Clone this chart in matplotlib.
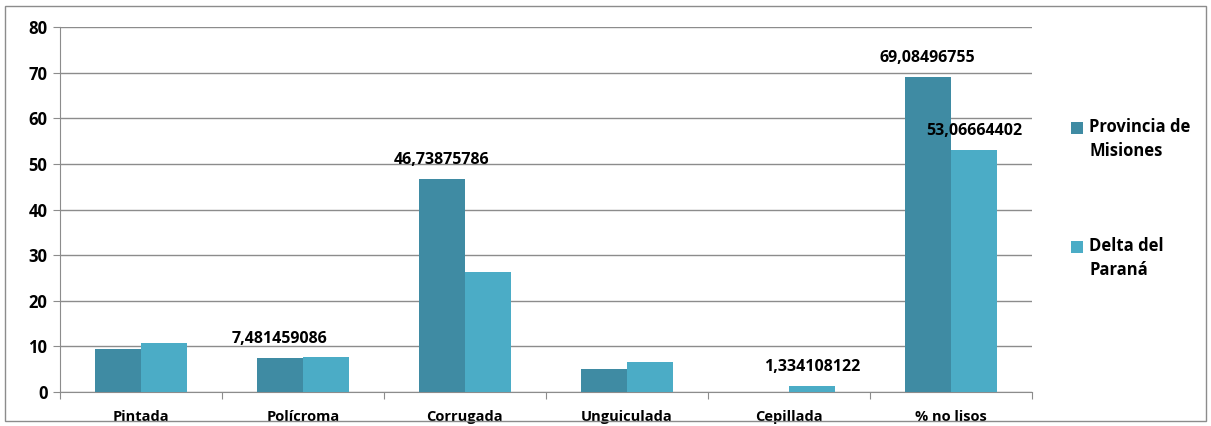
import matplotlib.pyplot as plt
import numpy as np
from matplotlib.patches import Rectangle

categories = ["Pintada", "Polícroma", "Corrugada", "Unguiculada", "Cepillada", "% no lisos"]
misiones = [9.4, 7.481459086, 46.73875786, 5.1, 0.0, 69.08496755]
delta = [10.8, 7.7, 26.3, 6.6, 1.334108122, 53.06664402]
series_names = ["Provincia de\nMisiones", "Delta del\nParaná"]

# labels shown in the original: (series index, category index, text)
shown_labels = [
    (0, 1, "7,481459086"),
    (0, 2, "46,73875786"),
    (1, 4, "1,334108122"),
    (0, 5, "69,08496755"),
    (1, 5, "53,06664402"),
]

plt.rcParams["font.family"] = ["Open Sans", "DejaVu Sans"]
plt.rcParams["font.weight"] = "bold"

dark = "#3F8BA3"
light = "#4BACC6"
grid_c = "#8C8C8C"

fig = plt.figure(figsize=(12.11, 4.26), dpi=100)
ax = fig.add_axes([0.0495, 0.0798, 0.8025, 0.8568])

x = np.arange(len(categories))
w = 0.285
b1 = ax.bar(x - w / 2, misiones, w, color=dark, label=series_names[0], zorder=3)
b2 = ax.bar(x + w / 2, delta, w, color=light, label=series_names[1], zorder=3)

ax.set_ylim(0, 80)
ax.set_xlim(-0.5, len(categories) - 0.5)
ax.set_yticks(range(0, 81, 10))
ax.set_yticklabels([str(v) for v in range(0, 81, 10)], fontsize=12, fontweight="bold")
ax.yaxis.grid(True, color=grid_c, linewidth=1, zorder=0)

# category labels between boundary ticks
ax.set_xticks(np.arange(-0.5, len(categories), 1.0))
ax.set_xticklabels([""] * (len(categories) + 1))
ax.set_xticks(x, minor=True)
ax.set_xticklabels(categories, minor=True, fontsize=10.5, fontweight="bold")
ax.tick_params(axis="x", which="minor", length=0, pad=13)
ax.tick_params(axis="x", which="major", length=5, color=grid_c, direction="out")
ax.tick_params(axis="y", length=5, color=grid_c, pad=4)

for s in ["top", "right"]:
    ax.spines[s].set_visible(False)
ax.spines["left"].set_color(grid_c)
ax.spines["bottom"].set_color(grid_c)

bars = [b1, b2]
for si, ci, txt in shown_labels:
    rect = bars[si][ci]
    ax.annotate(txt, (rect.get_x() + rect.get_width() / 2, rect.get_height()),
                xytext=(0, 8), textcoords="offset points", ha="center", va="bottom",
                fontsize=11.5, fontweight="bold", zorder=5)

leg = ax.legend(loc="center left", bbox_to_anchor=(1.025, 0.53), frameon=False,
                labelspacing=4.6, handlelength=0.7, handleheight=0.7, handletextpad=0.4,
                prop={"size": 12, "weight": "bold"})
for t in leg.get_texts():
    t.set_linespacing(1.45)
# put the square next to the first line of each label, like Excel does
for h in leg.legend_handles:
    h.set_y(h.get_y() + 9)

fig.patches.append(Rectangle((0.004, 0.012), 0.992, 0.975, transform=fig.transFigure,
                             fill=False, edgecolor="#8C8C8C", linewidth=1))

fig.savefig("out.png", dpi=100)
